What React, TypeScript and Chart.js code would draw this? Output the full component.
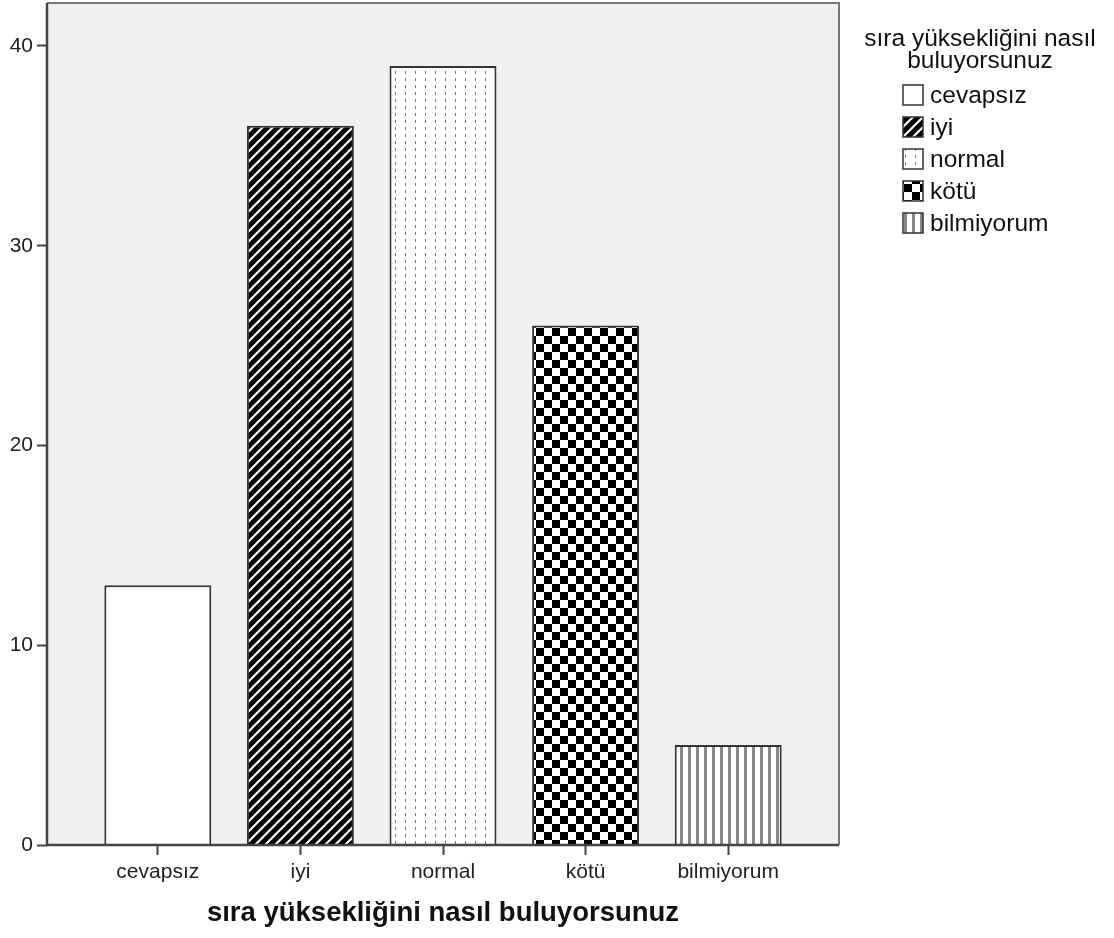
import React, { useEffect, useRef } from "react";
import { Chart, registerables } from "chart.js";

Chart.register(...registerables);

const categories = ["cevapsız", "iyi", "normal", "kötü", "bilmiyorum"];
const counts = [13, 36, 39, 26, 5];
const yTickValues = [0, 10, 20, 30, 40];
const axisTitle = "sıra yüksekliğini nasıl buluyorsunuz";
const legendTitle = ["sıra yüksekliğini nasıl", "buluyorsunuz"];
const patternKinds = ["blank", "diagonal", "dots", "checker", "vlines"];

const FONT = "'Liberation Sans', Arial, sans-serif";

function makeFill(kind: string): string | CanvasPattern {
  if (kind === "blank") return "#ffffff";
  const tile = document.createElement("canvas");
  let w = 10;
  let h = 10;
  if (kind === "dots") { w = 10; h = 7; }
  if (kind === "checker") { w = 16; h = 16; }
  if (kind === "vlines") { w = 8; h = 8; }
  tile.width = w;
  tile.height = h;
  const c = tile.getContext("2d")!;
  if (kind === "diagonal") {
    c.fillStyle = "#000";
    c.fillRect(0, 0, w, h);
    c.strokeStyle = "#fff";
    c.lineWidth = 2.2;
    for (const k of [-10, 0, 10]) {
      c.beginPath();
      c.moveTo(k - 1, h + 1);
      c.lineTo(k + w + 1, -1);
      c.stroke();
    }
  } else if (kind === "dots") {
    c.fillStyle = "#fff";
    c.fillRect(0, 0, w, h);
    c.fillStyle = "#777";
    c.fillRect(5, 1, 1, 3);
  } else if (kind === "checker") {
    c.fillStyle = "#fff";
    c.fillRect(0, 0, w, h);
    c.fillStyle = "#000";
    c.fillRect(0, 0, 8, 8);
    c.fillRect(8, 8, 8, 8);
  } else if (kind === "vlines") {
    c.fillStyle = "#fff";
    c.fillRect(0, 0, w, h);
    c.fillStyle = "#888";
    c.fillRect(0, 0, 3, h);
  }
  const ctx = document.createElement("canvas").getContext("2d")!;
  return ctx.createPattern(tile, "repeat")!;
}

export default function App() {
  const ref = useRef<HTMLCanvasElement | null>(null);

  useEffect(() => {
    const canvas = ref.current!;
    const fills = patternKinds.map(makeFill);

    const framePlugin = {
      id: "frame",
      beforeDraw(chart: any) {
        const { ctx, chartArea: a } = chart;
        ctx.save();
        ctx.fillStyle = "#f0f0f0";
        ctx.fillRect(a.left, a.top, a.right - a.left, a.bottom - a.top);
        ctx.restore();
      },
      afterDatasetsDraw(chart: any) {
        const { ctx, chartArea: a } = chart;
        ctx.save();
        ctx.strokeStyle = "#777";
        ctx.lineWidth = 2;
        ctx.beginPath();
        ctx.moveTo(a.left, a.top);
        ctx.lineTo(a.right, a.top);
        ctx.lineTo(a.right, a.bottom);
        ctx.stroke();
        ctx.strokeStyle = "#444";
        ctx.lineWidth = 2.5;
        ctx.beginPath();
        ctx.moveTo(a.left, a.top);
        ctx.lineTo(a.left, a.bottom);
        ctx.lineTo(a.right, a.bottom);
        ctx.stroke();
        ctx.restore();
      },
    };

    const legendPlugin = {
      id: "sideLegend",
      afterDraw(chart: any) {
        const ctx = chart.ctx as CanvasRenderingContext2D;
        ctx.save();
        ctx.font = `24.5px ${FONT}`;
        ctx.fillStyle = "#111";
        ctx.textAlign = "center";
        ctx.textBaseline = "middle";
        legendTitle.forEach((t, i) => ctx.fillText(t, 980, 39 + i * 22));
        ctx.textAlign = "left";
        categories.forEach((c, i) => {
          const cy = 96 + i * 32;
          ctx.fillStyle = fills[i] as any;
          ctx.fillRect(903, cy - 11, 20, 20);
          ctx.strokeStyle = "#333";
          ctx.lineWidth = 1.5;
          ctx.strokeRect(903, cy - 11, 20, 20);
          ctx.fillStyle = "#111";
          ctx.fillText(c, 930, cy);
        });
        ctx.restore();
      },
    };

    const chart = new Chart(canvas, {
      type: "bar",
      data: {
        datasets: [
          {
            data: counts.map((v, i) => ({ x: i, y: v })) as any,
            backgroundColor: fills as any,
            borderColor: "#333",
            borderWidth: 2,
            barPercentage: 0.75,
            categoryPercentage: 1,
          },
        ],
      },
      options: {
        responsive: false,
        animation: false,
        layout: { padding: { left: 0, right: 275, top: 3, bottom: 0 } },
        plugins: { legend: { display: false }, tooltip: { enabled: false } },
        scales: {
          x: {
            type: "linear",
            offset: false,
            min: -0.777,
            max: 4.777,
            afterBuildTicks: (s: any) => {
              s.ticks = categories.map((_, i) => ({ value: i }));
            },
            afterFit: (s: any) => {
              s.height = 93;
              s.paddingLeft = 0;
              s.paddingRight = 0;
            },
            ticks: {
              callback: (v: any) => categories[v as number] ?? "",
              font: { family: FONT, size: 21 },
              color: "#222",
              padding: 5,
              maxRotation: 0,
              autoSkip: false,
            },
            grid: {
              display: true,
              offset: false,
              drawOnChartArea: false,
              drawTicks: true,
              tickLength: 10,
              tickWidth: 2,
              tickColor: "#444",
            },
            border: { display: false },
            title: {
              display: true,
              text: axisTitle,
              font: { family: FONT, size: 27.5, weight: "bold" },
              color: "#111",
              padding: { top: 0, bottom: 8 },
            },
          },
          y: {
            min: 0,
            max: 42.15,
            afterBuildTicks: (s: any) => {
              s.ticks = yTickValues.map((v) => ({ value: v }));
            },
            afterFit: (s: any) => {
              s.width = 47;
              s.paddingTop = 0;
              s.paddingBottom = 0;
            },
            ticks: {
              font: { family: FONT, size: 21 },
              color: "#222",
              padding: 4,
            },
            grid: {
              display: true,
              drawOnChartArea: false,
              drawTicks: true,
              tickLength: 10,
              tickWidth: 2,
              tickColor: "#444",
            },
            border: { display: false },
          },
        },
      },
      plugins: [framePlugin, legendPlugin],
    });

    return () => chart.destroy();
  }, []);

  return (
    <div style={{ position: "absolute", left: 0, top: 0, width: 1114, height: 938, background: "#fff" }}>
      <canvas ref={ref} width={1114} height={938} style={{ display: "block" }} />
    </div>
  );
}
